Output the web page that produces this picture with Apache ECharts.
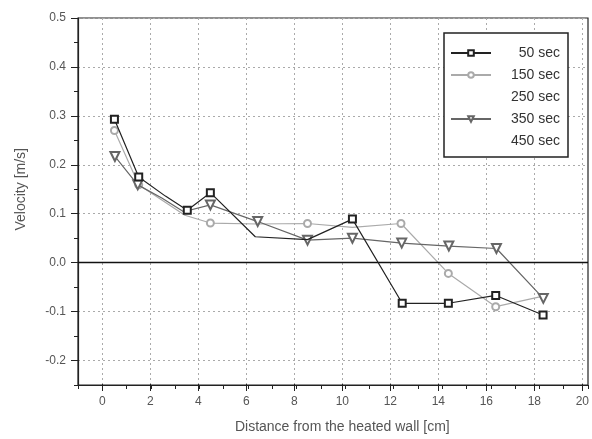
<!DOCTYPE html>
<html>
<head>
<meta charset="utf-8">
<script src="https://cdn.jsdelivr.net/npm/echarts@6/dist/echarts.min.js"></script>
<style>html,body{margin:0;padding:0;background:#fff;}#c{width:592px;height:439px;}</style>
</head>
<body>
<div id="c"></div>
<script>
const seriesNames = ['50 sec', '150 sec', '250 sec', '350 sec', '450 sec'];
const x50 = [0.5, 1.5, 2.6, 3.5, 4.45, 6.3, 8.45, 10.3, 12.35, 14.25, 16.2, 18.15];
const v50 = [0.293, 0.175, 0.136, 0.107, 0.143, 0.053, 0.047, 0.089, -0.083, -0.083, -0.067, -0.107];
const x150 = [0.5, 1.5, 2.45, 3.4, 4.45, 6.4, 8.45, 10.3, 12.3, 14.25, 16.2, 18.2];
const v150 = [0.27, 0.159, 0.128, 0.097, 0.081, 0.079, 0.080, 0.072, 0.080, -0.022, -0.09, -0.068];
const x350 = [0.52, 1.46, 2.45, 3.35, 4.45, 6.4, 8.45, 10.3, 12.33, 14.27, 16.23, 18.16];
const v350 = [0.217, 0.159, 0.132, 0.104, 0.118, 0.084, 0.046, 0.05, 0.04, 0.034, 0.029, -0.073];
const x250 = [];
const v250 = [];
const x450 = [];
const v450 = [];

// points drawn without a marker (as in the reference)
const noMark50 = [2, 5, 6];
const noMark150 = [2, 3, 5, 7, 11];
const noMark350 = [2, 3];

function pairs(xs, ys, hidden) {
  return xs.map((x, i) => hidden && hidden.indexOf(i) >= 0
    ? {value: [x, ys[i]], symbol: 'none'}
    : [x, ys[i]]);
}

const FONT = 'Liberation Sans';
const chart = echarts.init(document.getElementById('c'), null, {renderer: 'canvas'});
const gridLine = {show: true, lineStyle: {color: '#aaa', type: [2, 3], width: 1}};

chart.setOption({
  backgroundColor: '#fff',
  animation: false,
  grid: [
    {left: 78, right: 4, top: 18, bottom: 54, show: true, borderColor: '#222', borderWidth: 1.2},
    {left: 78, right: 4, top: 18, bottom: 78.5},
    {left: 102.3, right: 4, top: 18, bottom: 54}
  ],
  xAxis: [
    {gridIndex: 0, type: 'value', min: -1, max: 20, interval: 1,
     axisLine: {show: true, onZero: false, lineStyle: {color: '#222', width: 1.2}},
     axisTick: {show: true, inside: false, length: 4, lineStyle: {color: '#222'}},
     axisLabel: {show: false}, splitLine: {show: false}},
    {gridIndex: 1, type: 'value', min: -1, max: 20, show: false},
    {gridIndex: 2, type: 'value', min: 0, max: 20, interval: 2,
     axisLine: {show: false, onZero: false},
     axisTick: {show: true, length: 7, lineStyle: {color: '#222'}},
     axisLabel: {show: true, color: '#555', fontFamily: FONT, fontSize: 12, margin: 12},
     splitLine: gridLine,
     name: 'Distance from the heated wall [cm]', nameLocation: 'middle', nameGap: 36,
     nameTextStyle: {color: '#555', fontFamily: FONT, fontSize: 14}}
  ],
  yAxis: [
    {gridIndex: 0, type: 'value', min: -0.25, max: 0.5, interval: 0.05,
     axisLine: {show: true, onZero: false, lineStyle: {color: '#222', width: 1.2}},
     axisTick: {show: true, length: 4, lineStyle: {color: '#222'}},
     axisLabel: {show: false}, splitLine: {show: false}},
    {gridIndex: 1, type: 'value', min: -0.2, max: 0.5, interval: 0.1,
     axisLine: {show: false, onZero: false},
     axisTick: {show: true, length: 7, lineStyle: {color: '#222'}},
     axisLabel: {show: true, color: '#555', fontFamily: FONT, fontSize: 12, margin: 12,
       formatter: v => v.toFixed(1)},
     splitLine: gridLine,
     name: 'Velocity [m/s]', nameLocation: 'middle', nameGap: 50, nameRotate: 90,
     nameTextStyle: {color: '#555', fontFamily: FONT, fontSize: 14}},
    {gridIndex: 2, type: 'value', min: -0.25, max: 0.5, show: false}
  ],
  legend: {
    left: 444, top: 33, orient: 'vertical',
    backgroundColor: '#fff', borderColor: '#222', borderWidth: 1.5, borderRadius: 0,
    padding: [13, 8, 9, 6],
    itemWidth: 40, itemHeight: 7, itemGap: 8,
    data: seriesNames,
    formatter: n => '{a|' + n + '}',
    textStyle: {color: '#333', fontFamily: FONT, fontSize: 14,
      rich: {a: {width: 64, align: 'right', fontFamily: FONT, fontSize: 14, color: '#333', height: 14, lineHeight: 14}}}
  },
  series: [
    {name: '50 sec', type: 'line', xAxisIndex: 0, yAxisIndex: 0, data: pairs(x50, v50, noMark50),
     symbol: 'emptyRect', symbolSize: 7, color: '#222', lineStyle: {color: '#222', width: 1.2},
     itemStyle: {color: '#222', borderWidth: 1.3}, z: 5,
     markLine: {silent: true, symbol: 'none', label: {show: false},
       lineStyle: {color: '#111', type: 'solid', width: 1.3}, data: [{yAxis: 0}]}},
    {name: '150 sec', type: 'line', xAxisIndex: 0, yAxisIndex: 0, data: pairs(x150, v150, noMark150),
     symbol: 'emptyCircle', symbolSize: 7, color: '#aaa', lineStyle: {color: '#aaa', width: 1.2},
     itemStyle: {color: '#aaa', borderWidth: 1.2}, z: 3},
    {name: '250 sec', type: 'line', xAxisIndex: 0, yAxisIndex: 0, data: pairs(x250, v250),
     symbol: 'none', color: '#ffffff', lineStyle: {color: '#ffffff'}},
    {name: '350 sec', type: 'line', xAxisIndex: 0, yAxisIndex: 0, data: pairs(x350, v350, noMark350),
     symbol: 'emptyTriangle', symbolRotate: 180, symbolSize: 9, color: '#666',
     lineStyle: {color: '#666', width: 1.2}, itemStyle: {color: '#666', borderWidth: 1.2}, z: 4},
    {name: '450 sec', type: 'line', xAxisIndex: 0, yAxisIndex: 0, data: pairs(x450, v450),
     symbol: 'none', color: '#ffffff', lineStyle: {color: '#ffffff'}}
  ]
});
</script>
</body>
</html>
